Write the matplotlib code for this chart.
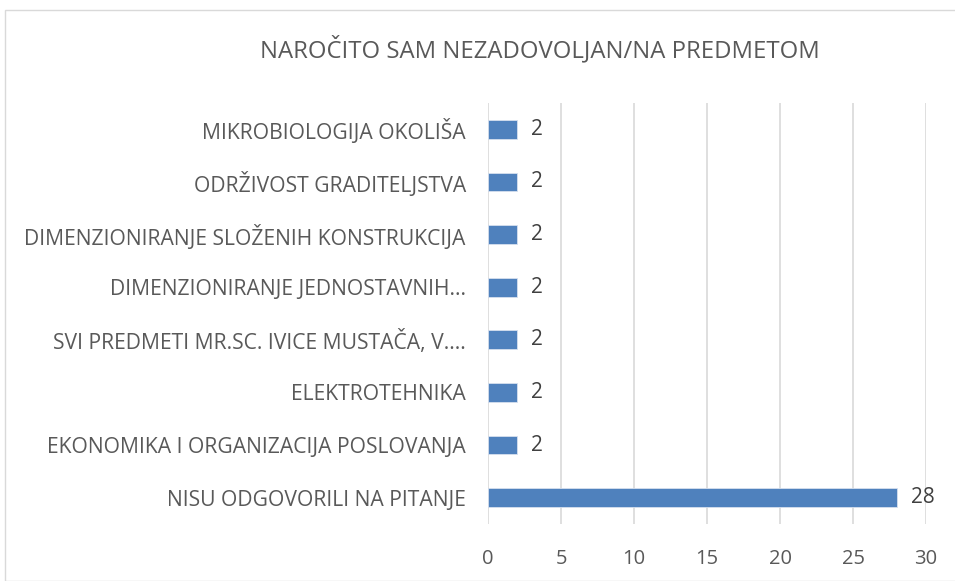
import matplotlib
matplotlib.use("Agg")
import matplotlib.pyplot as plt
from matplotlib.patches import Rectangle

categories = [
    "NISU ODGOVORILI NA PITANJE",
    "EKONOMIKA I ORGANIZACIJA POSLOVANJA",
    "ELEKTROTEHNIKA",
    "SVI PREDMETI MR.SC. IVICE MUSTAČA, V....",
    "DIMENZIONIRANJE JEDNOSTAVNIH...",
    "DIMENZIONIRANJE SLOŽENIH KONSTRUKCIJA",
    "ODRŽIVOST GRADITELJSTVA",
    "MIKROBIOLOGIJA OKOLIŠA",
]
values = [28, 2, 2, 2, 2, 2, 2, 2]
xticks = [0, 5, 10, 15, 20, 25, 30]
title = "NAROČITO SAM NEZADOVOLJAN/NA PREDMETOM"

plt.rcParams['font.family'] = ['Open Sans', 'DejaVu Sans']
text_color = "#595959"

fig = plt.figure(figsize=(9.55, 5.81), dpi=100)
fig.patches.append(Rectangle((5/955, 0), 1, 1 - 10/581, transform=fig.transFigure,
                             fill=False, edgecolor="#D9D9D9", linewidth=1.0))

ax = fig.add_axes([488/955, 1 - 524/581, 438/955, 421/581])
y = list(range(len(categories)))
ax.barh(y, values, height=0.355, color="#4F81BD", edgecolor="#D6E0EE", linewidth=0.6, zorder=3)
for yi, v in zip(y, values):
    ax.annotate(str(v), (v, yi), xytext=(10, 0), textcoords="offset points",
                va="center", ha="left", fontsize=15, color="#404040")

ax.set_xlim(0, 30)
ax.set_ylim(-0.5, 7.5)
ax.set_xticks(xticks)
ax.set_xticklabels([str(t) for t in xticks])
ax.set_yticks(y)
ax.set_yticklabels(categories)
ax.grid(axis="x", color="#D9D9D9", linewidth=1.2, zorder=0)
for s in ax.spines.values():
    s.set_visible(False)
ax.tick_params(axis="both", length=0, colors=text_color)
ax.tick_params(axis="y", pad=16, labelsize=15.2)
ax.tick_params(axis="x", pad=18, labelsize=14.5)

fig.text(540/955, 1 - 50/581, title, ha="center", va="center", fontsize=17.2, color=text_color)

fig.savefig("out.png", dpi=100)
